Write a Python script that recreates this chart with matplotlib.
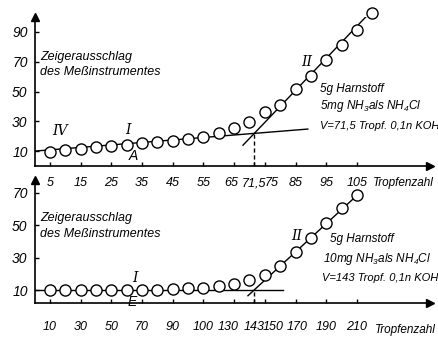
import numpy as np
import matplotlib
matplotlib.use('Agg')
import matplotlib.pyplot as plt
from matplotlib.transforms import ScaledTranslation

plt.rcParams['font.family'] = ['Liberation Sans', 'DejaVu Sans']
plt.rcParams['font.style'] = 'italic'
plt.rcParams['mathtext.fontset'] = 'custom'
plt.rcParams['mathtext.it'] = 'Liberation Sans:italic'
plt.rcParams['mathtext.rm'] = 'Liberation Sans:italic'

# upper curve: 5 mg NH3
drops1 = [5, 10, 15, 20, 25, 30, 35, 40, 45, 50, 55, 60,
          65, 70, 75, 80, 85, 90, 95, 100, 105, 110]
read1 = [9.3, 10.7, 11.3, 12.7, 13.4, 14.0, 15.4, 16.0, 16.7, 18.0, 19.4, 22.1,
         25.4, 29.5, 36.2, 40.9, 51.6, 60.3, 71.1, 81.1, 91.2, 102.6]
lineI_1 = ([0, 89], [10.0, 24.8])
lineII_1 = ([67.9, 110], [14.0, 104.6])
ep1 = (71.5, 21.8)
xt1 = [5, 15, 25, 35, 45, 55, 65, 71.5, 75, 85, 95, 105]
xl1 = ['5', '15', '25', '35', '45', '55', '65', '71,5', '75', '85', '95', '105']
yt1 = [10, 30, 50, 70, 90]

# lower curve: 10 mg NH3
drops2 = [10, 20, 30, 40, 50, 60, 70, 80, 90, 100, 110, 120, 130, 140,
          150, 160, 170, 180, 190, 200, 210]
read2 = [10, 10, 10, 10, 10, 10, 10, 10.3, 10.6, 11.0, 11.5, 12.5, 13.5, 16.0,
         19.5, 25.0, 33.5, 42.0, 51.5, 60.5, 68.5]
lineI_2 = ([0, 162], [10, 10])
lineII_2 = ([139, 212], [6.5, 70.2])
ep2 = (143, 10)
xt2 = [10, 30, 50, 70, 90, 110, 130, 143, 150, 170, 190, 210]
xl2 = ['10', '30', '50', '70', '90', '100', '130', '143', '150', '170', '190', '210']
yt2 = [10, 30, 50, 70]

fig = plt.figure(figsize=(4.39, 3.37), dpi=100)
ax1 = fig.add_axes([0.0788, 0.5074, 0.9007, 0.4421])
ax2 = fig.add_axes([0.0788, 0.1009, 0.9007, 0.3650])

fs = 9


def setup(ax, xlim, ylim, xt, xl, yt, xpad):
    ax.set_xlim(*xlim)
    ax.set_ylim(*ylim)
    for s in ['top', 'right']:
        ax.spines[s].set_visible(False)
    for s in ['left', 'bottom']:
        ax.spines[s].set_linewidth(1.2)
    ax.set_xticks(xt)
    ax.set_xticklabels(xl, fontsize=fs)
    ax.set_yticks(yt)
    ax.set_yticklabels([str(v) for v in yt], fontsize=10)
    ax.tick_params(direction='in', length=3, width=1, pad=5)
    ax.tick_params(axis='x', pad=xpad)
    ax.plot(1, 0, '>', color='k', ms=6, transform=ax.transAxes, clip_on=False)
    ax.plot(0, 1, '^', color='k', ms=6, transform=ax.transAxes, clip_on=False)
    ax.patch.set_alpha(0)


setup(ax1, (0, 128.8), (0, 100), xt1, xl1, yt1, 8)
setup(ax2, (0, 257.6), (2, 78), xt2, xl2, yt2, 13)


def nudge(ax, shifts):
    # move crowded tick labels sideways (points)
    labels = ax.get_xticklabels()
    for i, dx in shifts.items():
        lab = labels[i]
        lab.set_transform(lab.get_transform() + ScaledTranslation(dx / 72, 0, fig.dpi_scale_trans))


nudge(ax1, {6: -2, 8: 5})
nudge(ax2, {6: -4, 8: 6, 9: 1})

for ax, lI, lII, ep, x, y in [(ax1, lineI_1, lineII_1, ep1, drops1, read1),
                              (ax2, lineI_2, lineII_2, ep2, drops2, read2)]:
    ax.plot(*lI, color='k', lw=1)
    ax.plot(*lII, color='k', lw=1)
    ax.plot([ep[0], ep[0]], [ax.get_ylim()[0], ep[1]], color='k', lw=1, ls=(0, (3, 2)))
    ax.plot(x, y, 'o', ms=8, mfc='white', mec='k', mew=1, zorder=5, clip_on=False)

tk = dict(fontsize=8.5, ha='left', va='center')
tv = dict(fontsize=8, ha='left', va='center')
rn = dict(fontsize=fs + 1, ha='center', va='center', family='DejaVu Serif')

# upper panel texts
ax1.text(0.014, 0.68, 'Zeigerausschlag\ndes Meßinstrumentes', transform=ax1.transAxes,
         fontsize=fs, ha='left', va='center', linespacing=1.35)
ax1.text(8.3, 23.5, 'IV', **rn)
ax1.text(30.5, 24, 'I', **rn)
ax1.text(32, 7, 'A', fontsize=fs + 1, ha='center', va='center')
ax1.text(88.5, 70, 'II', **rn)
ax1.text(93, 52, '5g Harnstoff', **tk)
ax1.text(93, 40, '5mg NH$_3$als NH$_4$Cl', **tk)
ax1.text(93, 27, 'V=71,5 Tropf. 0,1n KOH', **tv)
ax1.text(110.3, -11.5, 'Tropfenzahl', clip_on=False, fontsize=8.5, ha='left', va='center')

# lower panel texts
ax2.text(0.014, 0.626, 'Zeigerausschlag\ndes Meßinstrumentes', transform=ax2.transAxes,
         fontsize=fs, ha='left', va='center', linespacing=1.35)
ax2.text(65.4, 17.5, 'I', **rn)
ax2.text(63.5, 2.5, 'E', fontsize=fs + 1, ha='center', va='center')
ax2.text(171, 43.5, 'II', **rn)
ax2.text(192.5, 41.5, '5g Harnstoff', **tk)
ax2.text(188, 29, '10mg NH$_3$als NH$_4$Cl', **tk)
ax2.text(187, 17.4, 'V=143 Tropf. 0,1n KOH', **tv)
ax2.text(222, -14.5, 'Tropfenzahl', clip_on=False, fontsize=8.5, ha='left', va='center')

fig.savefig('out.png', dpi=100)
